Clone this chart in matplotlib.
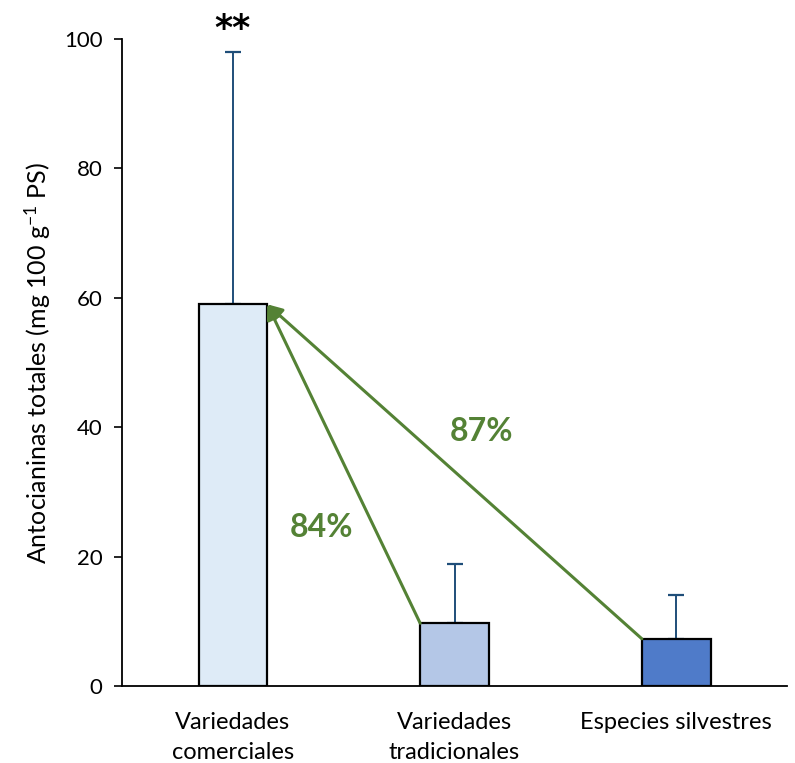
import numpy as np
import matplotlib
matplotlib.use('Agg')
import matplotlib.pyplot as plt

plt.rcParams['font.family'] = ['Lato', 'DejaVu Sans']
plt.rcParams['mathtext.default'] = 'regular'

categorias = ['Variedades\ncomerciales', 'Variedades\ntradicionales', 'Especies silvestres']
medias = [59.0, 9.7, 7.3]
errores = [39.0, 9.2, 6.8]
colores = ['#DEEBF7', '#B4C7E7', '#4F7BC9']
reduccion = ['84%', '87%']

verde = '#548235'
ancho = 0.31

fig = plt.figure(figsize=(7.95, 7.63), dpi=100)
ax = fig.add_axes([0.1535, 0.1009, 0.8365, 0.848])

x = np.arange(len(categorias))
ax.bar(x, medias, width=ancho, color=colores, edgecolor='black', linewidth=1.6, zorder=2)
ax.errorbar(x, medias, yerr=[np.zeros(len(x)), errores], fmt='none',
            ecolor='#1F4E79', elinewidth=1.4, capsize=6, capthick=1.6, zorder=1)

# flechas desde cada grupo hasta las variedades comerciales
destino = (x[0] + ancho / 2, medias[0])
for i in (1, 2):
    origen = (x[i] - ancho / 2, medias[i])
    ax.annotate('', xy=destino, xytext=origen,
                arrowprops=dict(arrowstyle='-|>', color=verde, lw=2.2,
                                mutation_scale=22, shrinkA=0, shrinkB=0),
                zorder=3)

ax.text(0.40, 24.5, reduccion[0], color=verde, fontsize=23, fontweight='bold',
        ha='center', va='center')
ax.text(1.12, 39.3, reduccion[1], color=verde, fontsize=23, fontweight='bold',
        ha='center', va='center')

ax.text(x[0], medias[0] + errores[0] + 3.6, '**', fontsize=25, fontweight='bold',
        ha='center', va='center', family='DejaVu Sans')

ax.set_xlim(-0.5, 2.5)
ax.set_ylim(0, 100)
ax.set_yticks(np.arange(0, 101, 20))
ax.set_xticks(x)
ax.set_xticklabels(categorias, fontsize=17, linespacing=1.5)
ax.tick_params(axis='x', length=0, pad=19)
ax.tick_params(axis='y', labelsize=16, length=6, width=1.2, direction='out', pad=8)
ax.set_ylabel('Antocianinas totales (mg 100 g$^{-1}$ PS)', fontsize=18, labelpad=8)

for s in ('top', 'right'):
    ax.spines[s].set_visible(False)
ax.spines['left'].set_linewidth(1.3)
ax.spines['bottom'].set_linewidth(1.3)

fig.savefig('out.png', dpi=100)
